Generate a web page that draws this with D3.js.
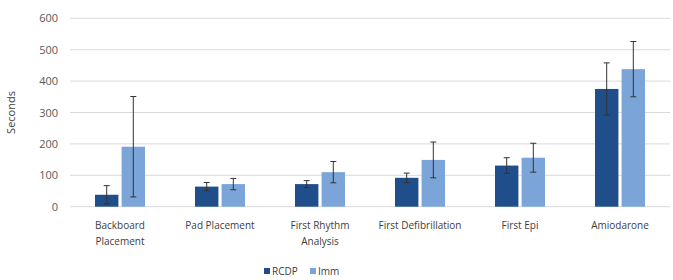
<!DOCTYPE html>
<html>
<head>
<meta charset="utf-8">
<script src="https://cdn.jsdelivr.net/npm/d3@7"></script>
<style>
	body { margin: 0; background: #fff; }
	svg { display: block; font-family: "Open Sans", sans-serif; }
</style>
</head>
<body>
<div id="chart"></div>
<script>
// categories and series
var categories = ['Backboard Placement', 'Pad Placement', 'First Rhythm Analysis', 'First Defibrillation', 'First Epi', 'Amiodarone'];
var catLines = [['Backboard', 'Placement'], ['Pad Placement'], ['First Rhythm', 'Analysis'], ['First Defibrillation'], ['First Epi'], ['Amiodarone']];
var seriesNames = ['RCDP', 'Imm'];
var rcdp = [38, 64, 72, 92, 131, 375];
var rcdpErr = [29, 13, 11, 15, 25, 83];
var imm = [191, 72, 110, 149, 156, 438];
var immErr = [160, 18, 34, 57, 46, 88];
var yTicks = [0, 100, 200, 300, 400, 500, 600];

var colors = ['#1f4e8a', '#7ba4d8'];

var width = 673, height = 280;
var margin = {top: 18, right: 3, bottom: 73, left: 70};

var svg = d3
	.select('#chart')
	.append('svg')
	.attr('width', width)
	.attr('height', height);

var x = d3
	.scaleBand()
	.domain(categories)
	.range([margin.left, width - margin.right]);

var xInner = d3
	.scaleBand()
	.domain(seriesNames)
	.range([0, 50])
	.paddingInner(0.12);

var y = d3
	.scaleLinear()
	.domain([0, 600])
	.range([height - margin.bottom - 0.3, margin.top + 0.3]);

// GRIDLINES
svg.append('g')
	.selectAll('line')
	.data(yTicks)
	.enter()
	.append('line')
	.attr('x1', margin.left)
	.attr('x2', width - margin.right)
	.attr('y1', function(d){ return y(d); })
	.attr('y2', function(d){ return y(d); })
	.attr('stroke', '#d9d9d9')
	.attr('stroke-width', 1);

// Y AXIS
var yAxis = svg.append('g')
	.attr('transform', 'translate(' + (margin.left - 12) + ',0)')
	.call(d3.axisLeft(y).tickValues(yTicks).tickSize(0).tickPadding(0));
yAxis.select('.domain').remove();
yAxis.selectAll('text')
	.attr('fill', '#595959')
	.style('font-size', '11px')
	.style('font-family', '"Open Sans", sans-serif');

svg.append('text')
	.attr('transform', 'translate(15,' + ((y(0) + y(600)) / 2) + ') rotate(-90)')
	.attr('text-anchor', 'middle')
	.attr('fill', '#404040')
	.style('font-size', '11px')
	.text('Seconds');

// BARS
var data = categories.map(function(c, i){
	return [
		{cat: c, s: 'RCDP', v: rcdp[i], e: rcdpErr[i]},
		{cat: c, s: 'Imm', v: imm[i], e: immErr[i]}
	];
});

var groups = svg.append('g')
	.selectAll('g')
	.data(data)
	.enter()
	.append('g')
	.attr('transform', function(d){ return 'translate(' + (x(d[0].cat) + x.bandwidth() / 2 - 25) + ',0)'; });

groups.selectAll('rect')
	.data(function(d){ return d; })
	.enter()
	.append('rect')
	.attr('x', function(d){ return xInner(d.s); })
	.attr('width', xInner.bandwidth())
	.attr('y', function(d){ return y(d.v); })
	.attr('height', function(d){ return y(0) - y(d.v); })
	.attr('fill', function(d, i){ return colors[i]; });

// ERROR BARS
var err = groups.selectAll('.err')
	.data(function(d){ return d; })
	.enter()
	.append('g')
	.attr('class', 'err')
	.attr('stroke', '#333')
	.attr('stroke-width', 1);

err.append('line')
	.attr('x1', function(d){ return xInner(d.s) + xInner.bandwidth() / 2; })
	.attr('x2', function(d){ return xInner(d.s) + xInner.bandwidth() / 2; })
	.attr('y1', function(d){ return y(d.v - d.e); })
	.attr('y2', function(d){ return y(d.v + d.e); });

[-1, 1].forEach(function(sign){
	err.append('line')
		.attr('x1', function(d){ return xInner(d.s) + xInner.bandwidth() / 2 - 3; })
		.attr('x2', function(d){ return xInner(d.s) + xInner.bandwidth() / 2 + 3; })
		.attr('y1', function(d){ return y(d.v + sign * d.e); })
		.attr('y2', function(d){ return y(d.v + sign * d.e); });
});

// CATEGORY LABELS
svg.append('g')
	.selectAll('text')
	.data(categories)
	.enter()
	.append('text')
	.attr('x', function(d){ return x(d) + x.bandwidth() / 2; })
	.attr('y', y(0) + 22)
	.attr('text-anchor', 'middle')
	.attr('fill', '#404040')
	.style('font-size', '10px')
	.each(function(d, i){
		var t = d3.select(this);
		catLines[i].forEach(function(l, j){
			t.append('tspan')
				.attr('x', x(d) + x.bandwidth() / 2)
				.attr('dy', j == 0 ? 0 : 16.5)
				.text(l);
		});
	});

// LEGEND
var legend = svg.append('g')
	.selectAll('g')
	.data(seriesNames)
	.enter()
	.append('g')
	.attr('transform', function(d, i){ return 'translate(' + (264 + i * 46) + ',268)'; });

legend.append('rect')
	.attr('width', 6)
	.attr('height', 6)
	.attr('y', 0)
	.attr('fill', function(d, i){ return colors[i]; });

legend.append('text')
	.attr('x', 8)
	.attr('y', 6.5)
	.attr('fill', '#404040')
	.style('font-size', '10px')
	.text(function(d){ return d; });
</script>
</body>
</html>
